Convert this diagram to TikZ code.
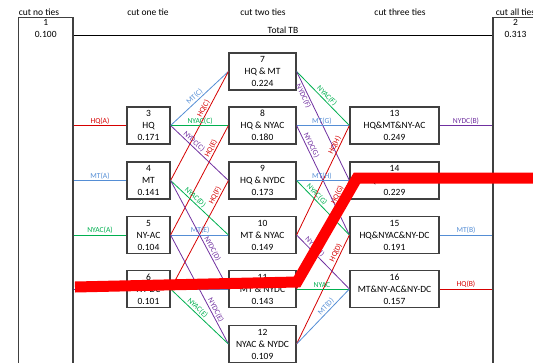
\documentclass[tikz,border=0pt]{standalone}
\usepackage{fontspec}
\setmainfont{Carlito}
\definecolor{hqred}{RGB}{214,0,0}
\definecolor{mtblue}{RGB}{85,142,213}
\definecolor{acgreen}{RGB}{0,176,80}
\definecolor{dcpurple}{RGB}{112,48,160}
\definecolor{boxgray}{RGB}{64,64,64}
\definecolor{bandred}{RGB}{255,0,0}
\usetikzlibrary{calc}

\begin{document}
\begin{tikzpicture}[x=1pt, y=-1pt,
  tiebox/.style={draw=boxgray, line width=1.2pt, minimum height=37pt, inner sep=1pt, align=center, font=\fontsize{9.5}{12}\selectfont},
  colone/.style={tiebox, minimum width=43pt},
  coltwo/.style={tiebox, minimum width=67pt},
  colthree/.style={tiebox, minimum width=89pt},
  endbox/.style={draw=boxgray, line width=1.2pt, minimum height=360pt, anchor=north},
  endtext/.style={anchor=north, align=center, inner sep=2pt, font=\fontsize{9.5}{12}\selectfont},
  cuthead/.style={font=\fontsize{9.5}{11}\selectfont, inner sep=1pt},
  elab/.style={font=\fontsize{7.6}{8}\selectfont, inner sep=1pt},
  hq/.style={hqred, line width=0.8pt},
  mt/.style={mtblue, line width=0.8pt},
  ac/.style={acgreen, line width=0.8pt},
  dc/.style={dcpurple, line width=0.8pt},
  band/.style={bandred, line width=11pt}]
  \clip (0,0) rectangle (533,362);

  % Column headers
  \node[cuthead] (h0) at (39,12) {cut no ties};
  \node[cuthead] (h1) at (148,12) {cut one tie};
  \node[cuthead] (h2) at (263,12) {cut two ties};
  \node[cuthead] (h3) at (400,12) {cut three ties};
  \node[cuthead] (h4) at (515.5,12) {cut all ties};

  % End boxes
  \node[endbox, minimum width=54.5pt] (n1) at (45.75,17) {};
  \node[endtext] (n1t) at (n1.north) {1\\0.100};
  \node[endbox, minimum width=45pt] (n2) at (515.5,17) {};
  \node[endtext] (n2t) at (n2.north) {2\\0.313};
  \draw[black, line width=0.8pt] ($(n1.north east)+(0,18)$) -- node[cuthead, above] {Total TB} ($(n2.north west)+(0,18)$);

  % Cut one tie
  \node[colone] (b3) at (148.5,125.5) {3\\HQ\\0.171};
  \node[colone] (b4) at (148.5,180.5) {4\\MT\\0.141};
  \node[colone] (b5) at (148.5,235) {5\\NY-AC\\0.104};
  \node[colone] (b6) at (148.5,289) {6\\NY-DC\\0.101};

  % Cut two ties
  \node[coltwo] (b7) at (262.5,71.5) {7\\HQ \& MT\\0.224};
  \node[coltwo] (b8) at (262.5,125.5) {8\\HQ \& NYAC\\0.180};
  \node[coltwo] (b9) at (262.5,180.5) {9\\HQ \& NYDC\\0.173};
  \node[coltwo] (b10) at (262.5,235) {10\\MT \& NYAC\\0.149};
  \node[coltwo] (b11) at (262.5,289) {11\\MT \& NYDC\\0.143};
  \node[coltwo] (b12) at (262.5,344) {12\\NYAC \& NYDC\\0.109};

  % Cut three ties
  \node[colthree] (b13) at (394.5,125.5) {13\\HQ\&MT\&NY-AC\\0.249};
  \node[colthree] (b14) at (394.5,180.5) {14\\HQ\&MT\&NY-DC\\0.229};
  \node[colthree] (b15) at (394.5,235) {15\\HQ\&NYAC\&NY-DC\\0.191};
  \node[colthree] (b16) at (394.5,289) {16\\MT\&NY-AC\&NY-DC\\0.157};

  % From node 1
  \draw[hq] (n1.east |- b3.west) -- node[elab, above] {HQ(A)} (b3.west);
  \draw[mt] (n1.east |- b4.west) -- node[elab, above] {MT(A)} (b4.west);
  \draw[ac] (n1.east |- b5.west) -- node[elab, above] {NYAC(A)} (b5.west);
  \draw[dc] (n1.east |- b6.west) -- (b6.west);

  % One tie to two ties
  \draw[mt] (b3.east) -- node[elab, sloped, above, pos=.47] {MT(C)} (b7.west);
  \draw[hq] (b4.east) -- node[elab, sloped, above, pos=.64] {HQ(C)} (b7.west);
  \draw[ac] (b3.east) -- node[elab, above, pos=.51] {NYAC(C)} (b8.west);
  \draw[hq] (b5.east) -- node[elab, sloped, above, pos=.77] {HQ(E)} (b8.west);
  \draw[dc] (b3.east) -- node[elab, sloped, above, pos=.35] {NYDC(C)} (b9.west);
  \draw[hq] (b6.east) -- node[elab, sloped, above, pos=.84] {HQ(F)} (b9.west);
  \draw[ac] (b4.east) -- node[elab, sloped, above, pos=.37] {NYAC(D)} (b10.west);
  \draw[mt] (b5.east) -- node[elab, above, pos=.51] {MT(E)} (b10.west);
  \draw[dc] (b4.east) -- node[elab, sloped, above, pos=.65] {NYDC(D)} (b11.west);
  \draw[mt] (b6.east) -- (b11.west);
  \draw[dc] (b5.east) -- node[elab, sloped, above, pos=.71] {NYDC(E)} (b12.west);
  \draw[ac] (b6.east) -- node[elab, sloped, above, pos=.41] {NYAC(E)} (b12.west);

  % Two ties to three ties
  \draw[ac] (b7.east) -- node[elab, sloped, above, pos=.51] {NYAC(F)} (b13.west);
  \draw[dc] (b7.east) -- node[elab, sloped, below, pos=.21] {NYDC(F)} (b14.west);
  \draw[mt] (b8.east) -- node[elab, above, pos=.48] {MT(G)} (b13.west);
  \draw[hq] (b10.east) -- node[elab, sloped, above, pos=.8] {HQ(H)} (b13.west);
  \draw[dc] (b8.east) -- node[elab, sloped, above, pos=.2] {NYDC(G)} (b15.west);
  \draw[mt] (b9.east) -- node[elab, above, pos=.48] {MT(H)} (b14.west);
  \draw[ac] (b9.east) -- node[elab, sloped, above, pos=.32] {NYAC(G)} (b15.west);
  \draw[hq] (b11.east) -- node[elab, sloped, above, pos=.85] {HQ(G)} (b14.west);
  \draw[hq] (b12.east) -- node[elab, sloped, above, pos=.82] {HQ(D)} (b15.west);
  \draw[dc] (b10.east) -- node[elab, sloped, above, pos=.28] {NYDC(I)} (b16.west);
  \draw[ac] (b11.east) -- node[elab, above, pos=.48] {NYAC} (b16.west);
  \draw[mt] (b12.east) -- node[elab, sloped, above, pos=.62] {MT(D)} (b16.west);

  % To node 2
  \draw[dc] (b13.east) -- node[elab, above] {NYDC(B)} (b13.east -| n2.west);
  \draw[ac] (b14.east) -- (b14.east -| n2.west);
  \draw[mt] (b15.east) -- node[elab, above] {MT(B)} (b15.east -| n2.west);
  \draw[hq] (b16.east) -- node[elab, above] {HQ(B)} (b16.east -| n2.west);

  % Red cut line
  \draw[band] (75,287) -- (297,282) -- (357,178) -- (540,178);
\end{tikzpicture}
\end{document}
